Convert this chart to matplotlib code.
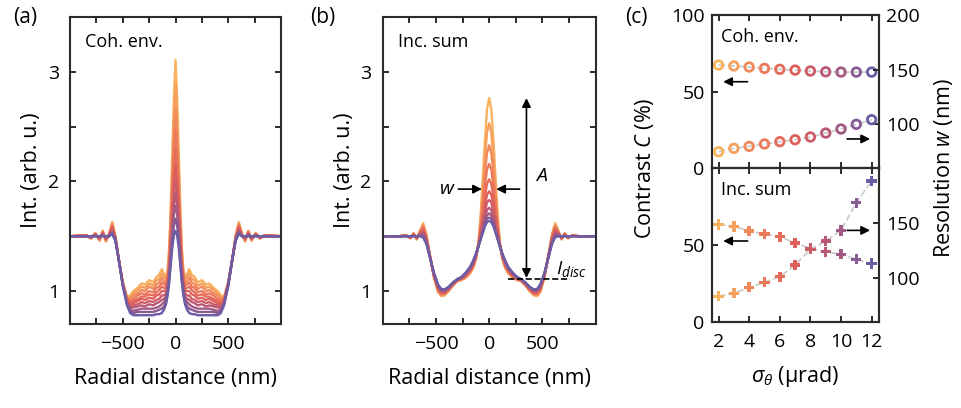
import matplotlib.pyplot as plt
import numpy as np
from matplotlib.colors import LinearSegmentedColormap

plt.rcParams['font.family'] = ['Open Sans', 'DejaVu Sans']
plt.rcParams['mathtext.fontset'] = 'custom'
plt.rcParams['mathtext.it'] = 'Open Sans:italic'
plt.rcParams['mathtext.rm'] = 'Open Sans'
plt.rcParams['mathtext.fallback'] = 'cm'

# sigma_theta (urad)
sigma = [2, 3, 4, 5, 6, 7, 8, 9, 10, 11, 12]

# (a) coherent envelope, half profile (radial distance >= 0), one row per sigma
x_coh = [0, 15, 30, 45, 60, 75, 90, 110, 130, 155, 180, 210, 250, 290, 320, 360,
         400, 430, 460, 500, 540, 570, 600, 630, 660, 690, 720, 760, 800, 850, 1000]
coh_env = [
    [3.11, 2.78, 2.28, 1.78, 1.40, 1.19, 1.12, 1.16, 1.20, 1.15, 1.13, 1.08, 1.10, 1.06, 1.07, 1.03, 1.00, 0.96, 0.95, 1.08, 1.30, 1.50, 1.63, 1.52, 1.45, 1.55, 1.46, 1.53, 1.48, 1.51, 1.50],
    [2.88, 2.59, 2.15, 1.70, 1.35, 1.17, 1.10, 1.13, 1.16, 1.11, 1.10, 1.05, 1.07, 1.03, 1.04, 1.01, 0.98, 0.94, 0.94, 1.08, 1.30, 1.50, 1.62, 1.52, 1.46, 1.55, 1.46, 1.53, 1.48, 1.51, 1.50],
    [2.66, 2.41, 2.03, 1.62, 1.31, 1.14, 1.07, 1.09, 1.12, 1.08, 1.06, 1.02, 1.04, 1.00, 1.01, 0.98, 0.96, 0.93, 0.93, 1.07, 1.30, 1.49, 1.61, 1.52, 1.46, 1.54, 1.47, 1.52, 1.48, 1.51, 1.50],
    [2.47, 2.26, 1.92, 1.56, 1.27, 1.12, 1.05, 1.06, 1.08, 1.04, 1.03, 0.99, 1.00, 0.97, 0.98, 0.96, 0.93, 0.91, 0.93, 1.07, 1.30, 1.49, 1.60, 1.51, 1.47, 1.54, 1.47, 1.52, 1.49, 1.51, 1.50],
    [2.30, 2.12, 1.82, 1.50, 1.23, 1.10, 1.02, 1.03, 1.04, 1.01, 0.99, 0.96, 0.97, 0.95, 0.95, 0.93, 0.91, 0.90, 0.92, 1.07, 1.30, 1.48, 1.59, 1.51, 1.47, 1.53, 1.48, 1.52, 1.49, 1.51, 1.50],
    [2.15, 2.00, 1.74, 1.45, 1.20, 1.08, 1.00, 1.00, 1.00, 0.97, 0.96, 0.93, 0.94, 0.92, 0.93, 0.91, 0.89, 0.88, 0.91, 1.07, 1.30, 1.48, 1.58, 1.51, 1.48, 1.53, 1.48, 1.52, 1.49, 1.51, 1.50],
    [2.02, 1.89, 1.66, 1.40, 1.18, 1.05, 0.98, 0.96, 0.96, 0.93, 0.92, 0.90, 0.91, 0.89, 0.90, 0.88, 0.87, 0.86, 0.90, 1.06, 1.30, 1.48, 1.56, 1.51, 1.48, 1.52, 1.48, 1.51, 1.49, 1.50, 1.50],
    [1.90, 1.79, 1.60, 1.36, 1.15, 1.03, 0.95, 0.93, 0.92, 0.90, 0.89, 0.87, 0.88, 0.86, 0.87, 0.86, 0.85, 0.85, 0.89, 1.06, 1.30, 1.47, 1.55, 1.51, 1.49, 1.52, 1.49, 1.51, 1.49, 1.50, 1.50],
    [1.78, 1.70, 1.53, 1.32, 1.13, 1.01, 0.93, 0.90, 0.88, 0.86, 0.85, 0.84, 0.84, 0.84, 0.84, 0.83, 0.82, 0.83, 0.89, 1.06, 1.30, 1.47, 1.54, 1.50, 1.49, 1.51, 1.49, 1.51, 1.50, 1.50, 1.50],
    [1.66, 1.60, 1.46, 1.28, 1.10, 0.98, 0.90, 0.86, 0.84, 0.83, 0.82, 0.81, 0.81, 0.81, 0.81, 0.81, 0.80, 0.82, 0.88, 1.05, 1.30, 1.46, 1.53, 1.50, 1.50, 1.51, 1.50, 1.50, 1.50, 1.50, 1.50],
    [1.55, 1.51, 1.40, 1.24, 1.08, 0.96, 0.88, 0.83, 0.80, 0.79, 0.79, 0.78, 0.78, 0.78, 0.78, 0.78, 0.78, 0.80, 0.87, 1.05, 1.30, 1.46, 1.52, 1.50, 1.50, 1.50, 1.50, 1.50, 1.50, 1.50, 1.50],
]

# (b) incoherent sum, half profile, one row per sigma
x_inc = [0, 20, 40, 60, 80, 100, 125, 150, 180, 220, 260, 300, 340, 380, 420,
         450, 480, 520, 560, 590, 620, 650, 680, 710, 740, 780, 850, 1000]
inc_sum = [
    [2.76, 2.66, 2.38, 2.03, 1.70, 1.45, 1.29, 1.21, 1.16, 1.12, 1.10, 1.09, 1.05, 1.00, 0.96, 0.955, 0.99, 1.13, 1.35, 1.52, 1.62, 1.55, 1.47, 1.53, 1.48, 1.51, 1.50, 1.50],
    [2.53, 2.45, 2.22, 1.93, 1.65, 1.44, 1.295, 1.217, 1.166, 1.125, 1.103, 1.092, 1.053, 1.004, 0.966, 0.962, 0.997, 1.134, 1.347, 1.511, 1.607, 1.545, 1.473, 1.527, 1.482, 1.509, 1.50, 1.50],
    [2.33, 2.26, 2.08, 1.84, 1.61, 1.44, 1.30, 1.224, 1.172, 1.13, 1.106, 1.094, 1.056, 1.008, 0.971, 0.968, 1.004, 1.138, 1.344, 1.502, 1.594, 1.54, 1.476, 1.524, 1.484, 1.508, 1.50, 1.50],
    [2.16, 2.11, 1.96, 1.76, 1.58, 1.43, 1.305, 1.231, 1.178, 1.135, 1.109, 1.096, 1.059, 1.012, 0.977, 0.975, 1.011, 1.142, 1.341, 1.493, 1.581, 1.535, 1.479, 1.521, 1.486, 1.507, 1.50, 1.50],
    [2.02, 1.98, 1.86, 1.70, 1.55, 1.42, 1.31, 1.238, 1.184, 1.14, 1.112, 1.098, 1.062, 1.016, 0.982, 0.981, 1.018, 1.146, 1.338, 1.484, 1.568, 1.53, 1.482, 1.518, 1.488, 1.506, 1.50, 1.50],
    [1.91, 1.88, 1.78, 1.65, 1.53, 1.42, 1.315, 1.245, 1.19, 1.145, 1.115, 1.10, 1.065, 1.02, 0.988, 0.988, 1.025, 1.15, 1.335, 1.475, 1.555, 1.525, 1.485, 1.515, 1.49, 1.505, 1.50, 1.50],
    [1.83, 1.81, 1.72, 1.62, 1.51, 1.42, 1.32, 1.252, 1.196, 1.15, 1.118, 1.102, 1.068, 1.024, 0.993, 0.994, 1.032, 1.154, 1.332, 1.466, 1.542, 1.52, 1.488, 1.512, 1.492, 1.504, 1.50, 1.50],
    [1.76, 1.74, 1.67, 1.58, 1.49, 1.41, 1.325, 1.259, 1.202, 1.155, 1.121, 1.104, 1.071, 1.028, 0.999, 1.001, 1.039, 1.158, 1.329, 1.457, 1.529, 1.515, 1.491, 1.509, 1.494, 1.503, 1.50, 1.50],
    [1.71, 1.69, 1.64, 1.56, 1.48, 1.41, 1.33, 1.266, 1.208, 1.16, 1.124, 1.106, 1.074, 1.032, 1.004, 1.007, 1.046, 1.162, 1.326, 1.448, 1.516, 1.51, 1.494, 1.506, 1.496, 1.502, 1.50, 1.50],
    [1.67, 1.66, 1.61, 1.54, 1.48, 1.41, 1.335, 1.273, 1.214, 1.165, 1.127, 1.108, 1.077, 1.036, 1.01, 1.014, 1.053, 1.166, 1.323, 1.439, 1.503, 1.505, 1.497, 1.503, 1.498, 1.501, 1.50, 1.50],
    [1.64, 1.63, 1.59, 1.53, 1.47, 1.41, 1.34, 1.28, 1.22, 1.17, 1.13, 1.11, 1.08, 1.04, 1.015, 1.02, 1.06, 1.17, 1.32, 1.43, 1.49, 1.50, 1.50, 1.50, 1.50, 1.50, 1.50, 1.50],
]

# (c) contrast (%) and resolution (nm)
contrast_coh = [67.3, 66.7, 66.0, 65.1, 64.5, 64.0, 63.4, 62.9, 62.7, 62.7, 62.7]
resol_coh = [74.9, 78.0, 79.8, 82.0, 84.1, 85.9, 88.4, 92.0, 95.7, 100.0, 104.2]
contrast_inc = [63.4, 62.1, 59.1, 57.1, 55.4, 51.3, 47.8, 45.6, 44.0, 40.7, 37.9]
resol_inc = [83.4, 86.1, 91.5, 96.1, 101.2, 111.8, 126.1, 133.6, 143.3, 168.5, 188.2]

cmap = LinearSegmentedColormap.from_list(
    'sun', ['#F8B35E', '#EE7F5B', '#DF5F5A', '#B0587A', '#6C5CA4'])
colors = [cmap(i / (len(sigma) - 1)) for i in range(len(sigma))]

spine_c = '#2b2b2b'
fs_lab = 15.5
fs_tick = 14

fig = plt.figure(figsize=(9.62, 4.08), dpi=100)
ax_a = fig.add_axes([0.0728, 0.2059, 0.2193, 0.7525])
ax_b = fig.add_axes([0.3978, 0.2059, 0.2214, 0.7525])
ax_c1 = fig.add_axes([0.7398, 0.5882, 0.1739, 0.375])
ax_c2 = fig.add_axes([0.7398, 0.2108, 0.1739, 0.3774])


def style(ax, **kw):
    for s in ax.spines.values():
        s.set_linewidth(1.5)
        s.set_color(spine_c)
    ax.tick_params(which='both', direction='in', length=4.5, width=1.4,
                   color=spine_c, labelsize=fs_tick, **kw)


def mirror(xh, yh):
    xh = np.asarray(xh, float)
    yh = np.asarray(yh, float)
    return np.concatenate([-xh[::-1], xh[1:]]), np.concatenate([yh[::-1], yh[1:]])


for ax, xs, rows, name in [(ax_a, x_coh, coh_env, 'Coh. env.'),
                           (ax_b, x_inc, inc_sum, 'Inc. sum')]:
    for row, col in zip(rows, colors):
        xx, yy = mirror(xs, row)
        ax.plot(xx, yy, color=col, lw=1.7, solid_joinstyle='round')
    ax.set_xlim(-1000, 1000)
    ax.set_ylim(0.7, 3.5)
    ax.set_xticks([-500, 0, 500])
    ax.set_xticks([-750, -250, 250, 750], minor=True)
    ax.set_yticks([1, 2, 3])
    ax.set_yticks([1.5, 2.5], minor=True)
    style(ax, top=True, right=True)
    ax.tick_params(axis='x', pad=8)
    ax.tick_params(axis='y', pad=8)
    ax.set_xlabel('Radial distance (nm)', fontsize=fs_lab, labelpad=11)
    ax.set_ylabel('Int. (arb. u.)', fontsize=fs_lab, labelpad=4)
    ax.text(0.07, 0.918, name, transform=ax.transAxes, fontsize=13,
            va='center', ha='left')

# annotations in (b)
arr = dict(arrowstyle='-|>', color='black', lw=1.2, mutation_scale=13,
           shrinkA=0, shrinkB=0)
ax_b.annotate('', xy=(350, 2.76), xytext=(350, 1.12),
              arrowprops=dict(arr, arrowstyle='<|-|>'))
ax_b.annotate('', xy=(-68, 1.93), xytext=(-290, 1.93), arrowprops=arr)
ax_b.annotate('', xy=(66, 1.93), xytext=(285, 1.93), arrowprops=arr)
ax_b.plot([180, 760], [1.114, 1.114], ls='--', color='black', lw=1.2)
ax_b.text(-395, 1.93, '$w$', fontsize=14, ha='center', va='center')
ax_b.text(495, 2.05, '$A$', fontsize=14, ha='center', va='center')
ax_b.text(630, 1.20, '$I_{disc}$', fontsize=14, ha='left', va='center')

# panel (c)
ax_c1r = ax_c1.twinx()
ax_c2r = ax_c2.twinx()
for axl, axr, cvals, rvals, mk, name in [
        (ax_c1, ax_c1r, contrast_coh, resol_coh, 'o', 'Coh. env.'),
        (ax_c2, ax_c2r, contrast_inc, resol_inc, 'P', 'Inc. sum')]:
    for ax, vals in [(axl, cvals), (axr, rvals)]:
        ax.plot(sigma, vals, ls='--', color='#cccccc', lw=1.3, zorder=1)
        if mk == 'o':
            ax.scatter(sigma, vals, s=38, marker='o', facecolors='none',
                       edgecolors=colors, linewidths=2.0, zorder=3)
        else:
            ax.scatter(sigma, vals, s=55, marker='P', color=colors,
                       linewidths=0, zorder=3)
    axl.set_xlim(1.55, 12.48)
    axl.set_ylim(0, 100)
    axr.set_ylim(60, 200)
    axl.set_yticks([0, 50, 100])
    axr.set_yticks([100, 150, 200])
    axl.set_xticks([2, 4, 6, 8, 10, 12])
    style(axl, top=True, right=False)
    style(axr, top=False, left=False)
    axl.tick_params(axis='y', pad=5)
    axr.tick_params(axis='y', pad=5)
    axl.tick_params(axis='x', pad=8)
    axl.text(0.054, 0.858, name, transform=axl.transAxes, fontsize=13,
             va='center', ha='left')

ax_c1.tick_params(axis='x', labelbottom=False)
ax_c2.set_yticklabels(['0', '50', ''])
ax_c2r.set_yticklabels(['100', '150', ''])
ax_c2.set_xlabel(r'$\sigma_\theta$ (µrad)', fontsize=fs_lab, labelpad=9)

arr_c = dict(arrowstyle='-|>', color='black', lw=1.2, mutation_scale=13,
             shrinkA=0, shrinkB=0)
ax_c1.annotate('', xy=(2.3, 56.4), xytext=(3.9, 56.4), arrowprops=arr_c)
ax_c1.annotate('', xy=(11.9, 19.0), xytext=(10.4, 19.0), arrowprops=arr_c)
ax_c2.annotate('', xy=(2.3, 52.6), xytext=(3.9, 52.6), arrowprops=arr_c)
ax_c2.annotate('', xy=(11.9, 59.5), xytext=(10.4, 59.5), arrowprops=arr_c)

fig.text(645 / 962, 0.587, r'Contrast $C$ (%)', rotation=90, fontsize=fs_lab,
         ha='center', va='center')
fig.text(944 / 962, 0.587, r'Resolution $w$ (nm)', rotation=90, fontsize=fs_lab,
         ha='center', va='center')

for lab, xp in [('(a)', 25), ('(b)', 323), ('(c)', 636)]:
    fig.text(xp / 962, 1 - 17 / 408, lab, fontsize=15, ha='center', va='center')

fig.savefig('out.png', dpi=100)
